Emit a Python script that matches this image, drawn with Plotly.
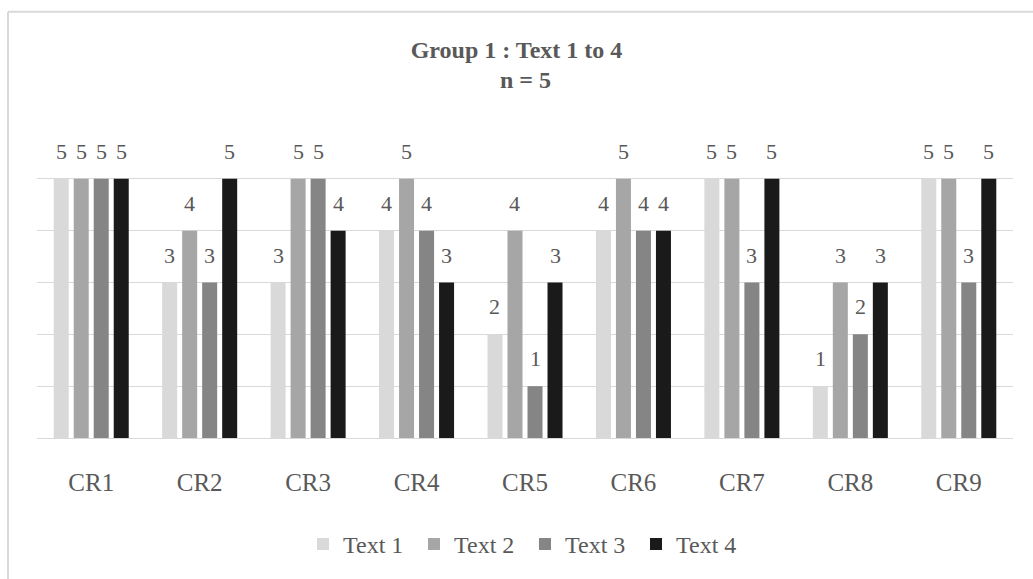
import plotly.graph_objects as go

# Chart data
categories = ["CR1", "CR2", "CR3", "CR4", "CR5", "CR6", "CR7", "CR8", "CR9"]
series_names = ["Text 1", "Text 2", "Text 3", "Text 4"]
text1 = [5, 3, 3, 4, 2, 4, 5, 1, 5]
text2 = [5, 4, 5, 5, 4, 5, 5, 3, 5]
text3 = [5, 3, 5, 4, 1, 4, 3, 2, 3]
text4 = [5, 5, 4, 3, 3, 4, 5, 3, 5]
series_values = [text1, text2, text3, text4]
colors = ["#d9d9d9", "#a6a6a6", "#858585", "#1a1a1a"]

W, H = 1033, 579
M_L, M_R, M_T, M_B = 37, 20, 127, 139
BARGAP = 0.262
GROUPGAP = 0.25
FONT = "Liberation Serif"
GREY_TEXT = "#595959"

fig = go.Figure()
for name, vals, col in zip(series_names, series_values, colors):
    fig.add_trace(go.Bar(
        x=categories, y=vals, name=name,
        marker=dict(color=col, line=dict(width=0)),
    ))

# value labels above each bar, shifted to the bar's slot inside its group
plot_w = W - M_L - M_R
cat_w = plot_w / len(categories)
slot_w = cat_w * (1 - BARGAP) / len(series_names)
annotations = []
for i, vals in enumerate(series_values):
    shift = (i - (len(series_names) - 1) / 2) * slot_w
    for cat, v in zip(categories, vals):
        annotations.append(dict(
            x=cat, y=v, xref="x", yref="y", text=str(v), showarrow=False,
            xshift=shift, yshift=13, yanchor="bottom",
            font=dict(family=FONT, size=22, color=GREY_TEXT),
        ))

plot_h = H - M_T - M_B
annotations.append(dict(
    x=0.5, y=1 + (M_T - 80) / plot_h, xref="paper", yref="paper",
    text="<b>n = 5</b>", showarrow=False, yanchor="middle",
    font=dict(family=FONT, size=24, color=GREY_TEXT),
))

# outer frame (left and top edges)
frame_x = (8 - M_L) / plot_w
frame_y = 1 + (M_T - 11) / plot_h
shapes = [
    dict(type="line", xref="paper", yref="paper", x0=frame_x, x1=frame_x,
         y0=-M_B / plot_h - 0.1, y1=frame_y, line=dict(color="#d9d9d9", width=2)),
    dict(type="line", xref="paper", yref="paper", x0=frame_x, x1=1 + M_R / plot_w + 0.1,
         y0=frame_y, y1=frame_y, line=dict(color="#d9d9d9", width=2)),
]

fig.update_layout(
    width=W, height=H,
    margin=dict(l=M_L, r=M_R, t=M_T, b=M_B),
    paper_bgcolor="white", plot_bgcolor="white",
    barmode="group", bargap=BARGAP, bargroupgap=GROUPGAP,
    title=dict(text="<b>Group 1 : Text 1 to 4</b>", x=0.5, xanchor="center",
               y=1 - 50 / H, yanchor="middle", yref="container",
               font=dict(family=FONT, size=24, color=GREY_TEXT)),
    font=dict(family=FONT, color=GREY_TEXT),
    xaxis=dict(showline=True, linecolor="#d9d9d9", linewidth=1,
               ticks="outside", ticklen=22, tickcolor="rgba(0,0,0,0)",
               tickfont=dict(family=FONT, size=25, color=GREY_TEXT),
               showgrid=False),
    yaxis=dict(range=[0, 6], dtick=1, showgrid=True, gridcolor="#d9d9d9",
               gridwidth=1, zeroline=False, showticklabels=False, ticks=""),
    legend=dict(orientation="h", x=0.5, xanchor="center", y=-(547 - (H - M_B)) / plot_h,
                yanchor="middle", font=dict(family=FONT, size=24, color=GREY_TEXT),
                entrywidth=66, bgcolor="rgba(0,0,0,0)"),
    annotations=annotations,
    shapes=shapes,
)

fig.write_html("out.html")
